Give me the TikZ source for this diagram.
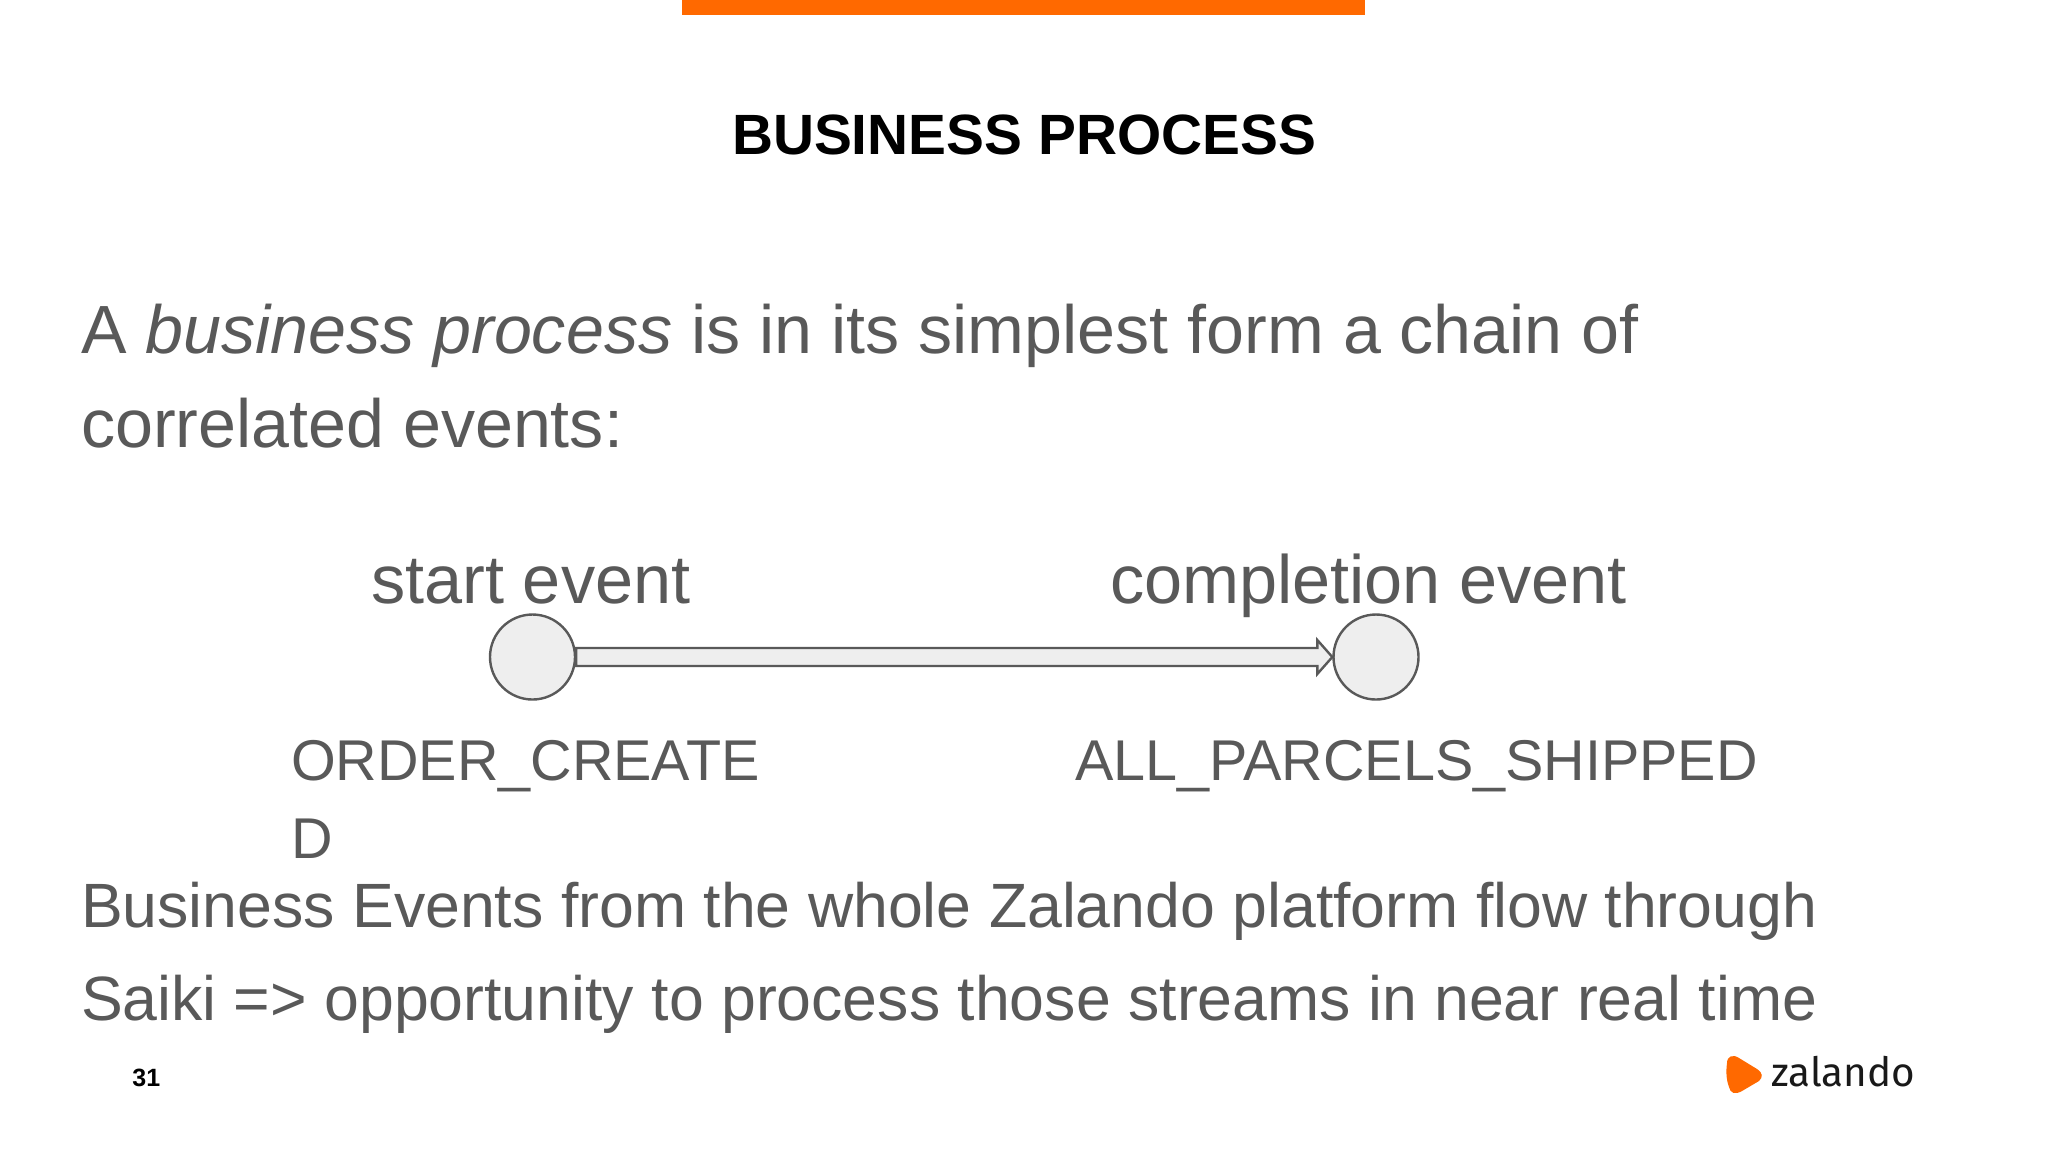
\documentclass[tikz,border=0pt]{standalone}
\usepackage{fontspec}
\setmainfont{Liberation Sans}
\newfontfamily\logofont{Fira Sans}
\usetikzlibrary{calc}
\definecolor{zorange}{HTML}{FF6900}
\definecolor{zgray}{HTML}{595959}
\definecolor{zfill}{HTML}{EEEEEE}
\newcommand{\fs}[1]{\fontsize{#1}{#1}\selectfont}
\tikzset{
  x=0.5pt,y=-0.5pt,
  txt/.style={anchor=base west,inner sep=0,outer sep=0,text=zgray},
  bodytext/.style={txt,font=\fs{34.1}},
  flowtext/.style={txt,font=\fs{31.3}},
  labeltext/.style={txt,font=\fs{34.2}},
  small/.style={txt,font=\fs{28.75}},
  evt/.style={circle,draw=zgray,fill=zfill,line width=1.2pt,minimum size=42.5pt,inner sep=0},
  conn/.style={draw=zgray,fill=zfill,line width=1.2pt,line join=miter},
}
\begin{document}
\begin{tikzpicture}
\useasboundingbox (0,0) rectangle (2048,1152);
\fill[white] (0,0) rectangle (2048,1152);
\fill[zorange] (682,0) rectangle (1365,15);
\node[anchor=base,inner sep=0,text=black,font=\fs{28.4}\bfseries] (title) at (1024,154) {BUSINESS PROCESS};
\node[bodytext] (l1) at (81,353) {A \textit{business process} is in its simplest form a chain of};
\node[bodytext] (l2) at (81,447) {correlated events:};
\node[labeltext] (se) at (371,603) {start event};
\node[labeltext] (ce) at (1110,603) {completion event};
\node[evt] (a) at (532.5,657) {};
\node[evt] (b) at (1376,657) {};
\draw[conn] ($(a.east)+(0,-9)$) -- ($(b.west)+(-15,-9)$) -- ($(b.west)+(-15,-17)$) -- (b.west) -- ($(b.west)+(-15,17)$) -- ($(b.west)+(-15,9)$) -- ($(a.east)+(0,9)$) -- cycle;
\node[small] (o1) at (291,780) {ORDER\_CREATE};
\node[small] (o2) at (291,858) {D};
\node[small] (ap) at (1075,780) {ALL\_PARCELS\_SHIPPED};
\node[flowtext] (l3) at (81,927) {Business Events from the whole Zalando platform flow through};
\node[flowtext] (l4) at (81,1020) {Saiki => opportunity to process those streams in near real time};
\node[anchor=base west,inner sep=0,text=black,font=\fs{12.5}\bfseries] (num) at (132,1086) {31};
\fill[zorange] (1727,1063) .. controls (1727,1056) and (1733,1054) .. (1739,1058)
  -- (1757,1069) .. controls (1763,1073) and (1763,1077) .. (1759,1081)
  -- (1742,1091) .. controls (1735,1095) and (1730,1093) .. (1729,1087)
  .. controls (1726,1079) and (1726,1071) .. cycle;
\node[anchor=base west,inner sep=0,text=black!90,font=\logofont\fs{20.2}] (logo) at (1771,1086) {zalando};
\end{tikzpicture}
\end{document}
